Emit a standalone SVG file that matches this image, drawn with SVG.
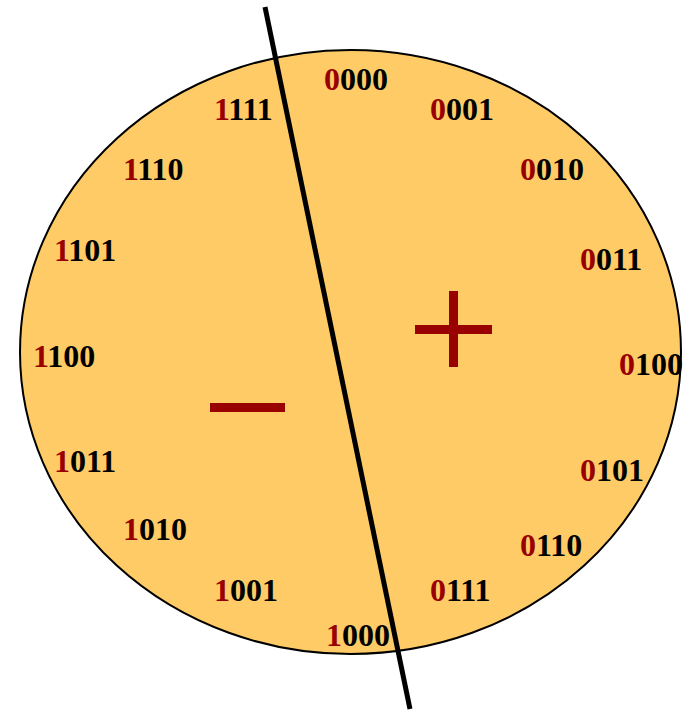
<svg xmlns="http://www.w3.org/2000/svg" width="687" height="712" viewBox="0 0 687 712">
<style>
.lbl{font-family:"Liberation Serif","Times New Roman",serif;font-weight:bold;font-size:32px;fill:#000}
.s{fill:#990000}
.sign{fill:#990000}
</style>
<rect width="687" height="712" fill="#fff"/>
<g id="wheel">
<ellipse cx="350.5" cy="352" rx="330.5" ry="302" fill="#FECB66" stroke="#000" stroke-width="2"/>
</g>
<g id="labels">
<text class="lbl" x="324" y="90"><tspan class="s">0</tspan>000</text>
<text class="lbl" x="430" y="120"><tspan class="s">0</tspan>001</text>
<text class="lbl" x="520" y="180"><tspan class="s">0</tspan>010</text>
<text class="lbl" x="580" y="270"><tspan class="s">0</tspan>011</text>
<text class="lbl" x="619" y="375"><tspan class="s">0</tspan>100</text>
<text class="lbl" x="580" y="481"><tspan class="s">0</tspan>101</text>
<text class="lbl" x="520" y="556"><tspan class="s">0</tspan>110</text>
<text class="lbl" x="430" y="601"><tspan class="s">0</tspan>111</text>
<text class="lbl" x="326" y="646"><tspan class="s">1</tspan>000</text>
<text class="lbl" x="214" y="601"><tspan class="s">1</tspan>001</text>
<text class="lbl" x="123" y="540"><tspan class="s">1</tspan>010</text>
<text class="lbl" x="54" y="472"><tspan class="s">1</tspan>011</text>
<text class="lbl" x="33" y="367"><tspan class="s">1</tspan>100</text>
<text class="lbl" x="54" y="261"><tspan class="s">1</tspan>101</text>
<text class="lbl" x="123" y="180"><tspan class="s">1</tspan>110</text>
<text class="lbl" x="214" y="120"><tspan class="s">1</tspan>111</text>
</g>
<g id="plus">
<rect class="sign" x="415" y="325" width="77" height="9"/>
<rect class="sign" x="449" y="291" width="9" height="76"/>
</g>
<g id="minus">
<rect class="sign" x="210" y="403" width="75" height="9"/>
</g>
<g id="connectors">
<line x1="265" y1="7" x2="410" y2="709" stroke="#000" stroke-width="5"/>
</g>
</svg>
